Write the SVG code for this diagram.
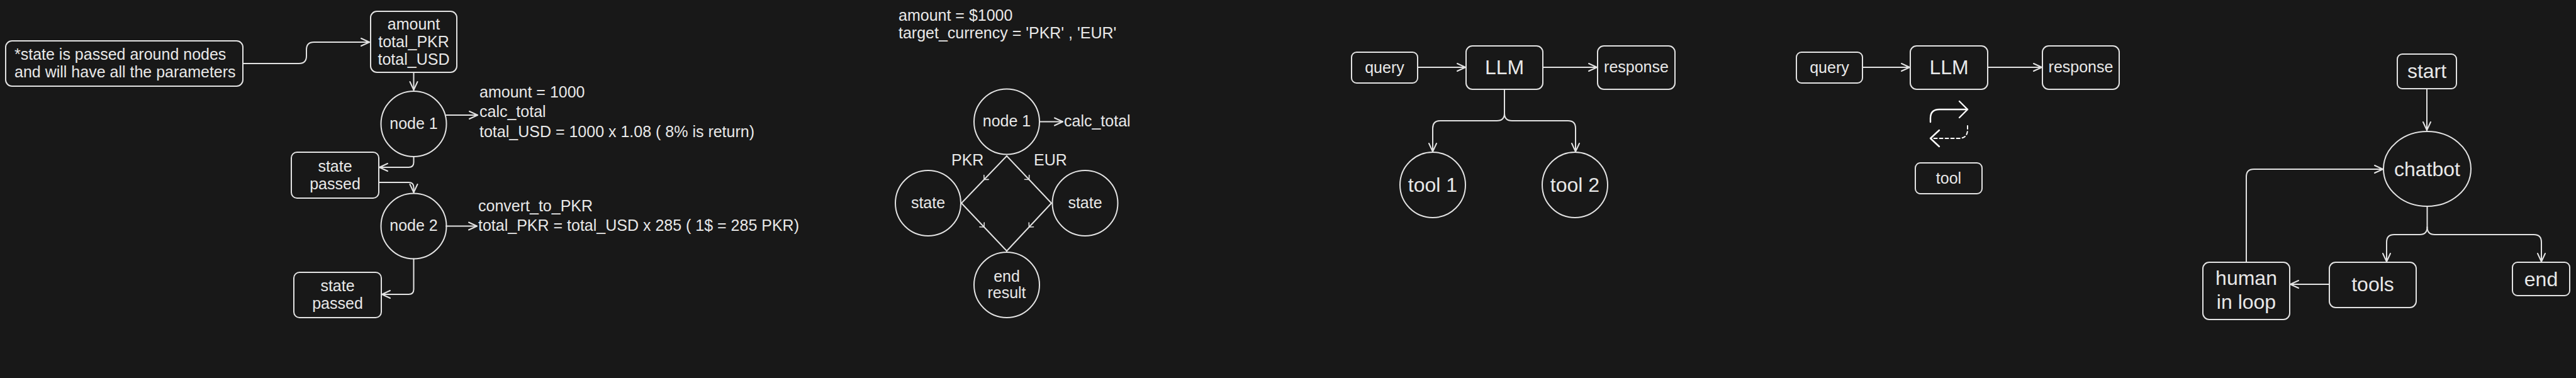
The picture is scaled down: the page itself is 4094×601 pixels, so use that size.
<svg xmlns="http://www.w3.org/2000/svg" width="4094" height="601" viewBox="0 0 4094 601">
<style>
.bg{fill:#181818}
.box{fill:none;stroke:#e3e3e3;stroke-width:2}
.ln{fill:none;stroke:#e3e3e3;stroke-width:2;stroke-linecap:round;stroke-linejoin:round}
.dash{stroke-dasharray:5 4}
text{font-family:"Liberation Sans",Arial,sans-serif;fill:#e8e8e8;font-size:25px}
.c{text-anchor:middle}
.big{font-size:32px}
</style>
<defs>
<marker id="ah" markerUnits="userSpaceOnUse" markerWidth="30" markerHeight="30" viewBox="-15 -15 30 30" refX="0" refY="0" orient="auto">
<path d="M-13,-6 L0,0 L-13,6" fill="none" stroke="#e3e3e3" stroke-width="2" stroke-linecap="round" stroke-linejoin="round"/>
</marker>
<marker id="sm" markerUnits="userSpaceOnUse" markerWidth="16" markerHeight="16" viewBox="-8 -8 16 16" refX="0" refY="0" orient="auto">
<path d="M-5,-5 L0,0 L-5,5" fill="none" stroke="#e3e3e3" stroke-width="1.6" stroke-linecap="round"/>
</marker>
<marker id="lg" markerUnits="userSpaceOnUse" markerWidth="40" markerHeight="40" viewBox="-20 -20 40 40" refX="0" refY="0" orient="auto">
<path d="M-13,-13 L0,0 L-13,13" fill="none" stroke="#ffffff" stroke-width="2.4" stroke-linecap="round" stroke-linejoin="round"/>
</marker>
</defs>
<rect class="bg" x="0" y="0" width="4094" height="601"/>

<!-- Section 1 -->
<g id="note">
<rect class="box" x="9" y="65" width="377" height="72" rx="10"/>
<text x="23" y="95">*state is passed around nodes</text>
<text x="23" y="123">and will have all the parameters</text>
</g>
<g id="state-box">
<rect class="box" x="589" y="18" width="137" height="97" rx="10"/>
<text class="c" x="657.5" y="47">amount</text>
<text class="c" x="657.5" y="75">total_PKR</text>
<text class="c" x="657.5" y="103">total_USD</text>
</g>
<g id="s1-node1">
<circle class="box" cx="657.5" cy="197" r="52"/>
<text class="c" x="657.5" y="205">node 1</text>
</g>
<g id="s1-node1-text">
<text x="762" y="155">amount = 1000</text>
<text x="762" y="186">calc_total</text>
<text x="762" y="218">total_USD = 1000 x 1.08 ( 8% is return)</text>
</g>
<g id="s1-passed1">
<rect class="box" x="463" y="242" width="139" height="73" rx="9"/>
<text class="c" x="532.5" y="273">state</text>
<text class="c" x="532.5" y="301">passed</text>
</g>
<g id="s1-node2">
<circle class="box" cx="657.5" cy="359.5" r="52"/>
<text class="c" x="657.5" y="367">node 2</text>
</g>
<g id="s1-node2-text">
<text x="760" y="336">convert_to_PKR</text>
<text x="760" y="367">total_PKR = total_USD x 285 ( 1$ = 285 PKR)</text>
</g>
<g id="s1-passed2">
<rect class="box" x="467" y="433" width="139" height="72" rx="9"/>
<text class="c" x="536.5" y="463">state</text>
<text class="c" x="536.5" y="491">passed</text>
</g>

<!-- Section 2 -->
<g id="s2-header">
<text x="1428" y="33">amount = $1000</text>
<text x="1428" y="61">target_currency = 'PKR' , 'EUR'</text>
</g>
<g id="s2-node1">
<circle class="box" cx="1600" cy="193.5" r="52"/>
<text class="c" x="1600" y="201">node 1</text>
</g>
<g id="s2-calc"><text x="1691" y="201">calc_total</text></g>
<g id="s2-state-pkr">
<circle class="box" cx="1475" cy="323" r="52"/>
<text class="c" x="1475" y="331">state</text>
</g>
<g id="s2-state-eur">
<circle class="box" cx="1724.5" cy="323" r="52"/>
<text class="c" x="1724.5" y="331">state</text>
</g>
<g id="s2-end">
<circle class="box" cx="1600" cy="453" r="52"/>
<text class="c" x="1600" y="448">end</text>
<text class="c" x="1600" y="474">result</text>
</g>
<g id="s2-labels">
<text x="1512" y="263">PKR</text>
<text x="1643" y="263">EUR</text>
</g>

<!-- Section 3 -->
<g id="s3-query">
<rect class="box" x="2148" y="83" width="105" height="49" rx="8"/>
<text class="c" x="2200.5" y="116">query</text>
</g>
<g id="s3-llm">
<rect class="box" x="2330" y="73" width="122" height="69" rx="10"/>
<text class="c big" x="2391" y="118">LLM</text>
</g>
<g id="s3-response">
<rect class="box" x="2539" y="73" width="123" height="69" rx="10"/>
<text class="c" x="2600.5" y="115">response</text>
</g>
<g id="s3-tool1">
<circle class="box" cx="2277" cy="294" r="52"/>
<text class="c big" x="2277" y="305">tool 1</text>
</g>
<g id="s3-tool2">
<circle class="box" cx="2503" cy="294" r="52"/>
<text class="c big" x="2503" y="305">tool 2</text>
</g>

<!-- Section 4 -->
<g id="s4-query">
<rect class="box" x="2855" y="83" width="105" height="49" rx="8"/>
<text class="c" x="2907.5" y="116">query</text>
</g>
<g id="s4-llm">
<rect class="box" x="3036" y="73" width="123" height="69" rx="10"/>
<text class="c big" x="3097.5" y="118">LLM</text>
</g>
<g id="s4-response">
<rect class="box" x="3246" y="73" width="122" height="69" rx="10"/>
<text class="c" x="3307" y="115">response</text>
</g>
<g id="s4-tool">
<rect class="box" x="3044" y="259" width="106" height="49" rx="8"/>
<text class="c" x="3097" y="292">tool</text>
</g>

<!-- Section 5 -->
<g id="s5-start">
<rect class="box" x="3810" y="86" width="94" height="55" rx="8"/>
<text class="c big" x="3857" y="124">start</text>
</g>
<g id="s5-chatbot">
<ellipse class="box" cx="3857.5" cy="268.5" rx="69.5" ry="59.5"/>
<text class="c big" x="3857.5" y="280">chatbot</text>
</g>
<g id="s5-tools">
<rect class="box" x="3702" y="417" width="138" height="72" rx="10"/>
<text class="c big" x="3771" y="463">tools</text>
</g>
<g id="s5-end">
<rect class="box" x="3993" y="417" width="91" height="53" rx="8"/>
<text class="c big" x="4038.5" y="455">end</text>
</g>
<g id="s5-human">
<rect class="box" x="3501" y="417" width="138" height="91" rx="10"/>
<text class="c big" x="3570" y="453">human</text>
<text class="c big" x="3570" y="491">in loop</text>
</g>

<g id="connectors">
<!-- section 1 -->
<path class="ln" marker-end="url(#ah)" d="M386,101 H475 Q487,101 487,89 V79 Q487,67 499,67 H587"/>
<path class="ln" marker-end="url(#ah)" d="M657.5,115 V143"/>
<path class="ln" marker-end="url(#ah)" d="M709,183 H759"/>
<path class="ln" marker-end="url(#ah)" d="M657.5,249 V258 Q657.5,266 649.5,266 H603"/>
<path class="ln" marker-end="url(#ah)" d="M602,290 H649.5 Q657.5,290 657.5,298 V306"/>
<path class="ln" marker-end="url(#ah)" d="M709,359.5 H758"/>
<path class="ln" marker-end="url(#ah)" d="M657.5,411.5 V460 Q657.5,468 649.5,468 H607"/>
<!-- section 2 -->
<path class="ln" marker-end="url(#ah)" d="M1652,193.5 H1689"/>
<path class="ln" marker-mid="url(#sm)" d="M1600,248 L1564,285.5 L1528,323"/>
<path class="ln" marker-mid="url(#sm)" d="M1600,248 L1635.5,285.5 L1671,323"/>
<path class="ln" marker-mid="url(#sm)" d="M1528,323 L1564,361 L1600,399"/>
<path class="ln" marker-mid="url(#sm)" d="M1671,323 L1635.5,361 L1600,399"/>
<!-- section 3 -->
<path class="ln" marker-end="url(#ah)" d="M2253,107 H2329"/>
<path class="ln" marker-end="url(#ah)" d="M2452,107 H2538"/>
<path class="ln" marker-end="url(#ah)" d="M2391,142 V180 Q2391,192 2379,192 H2289 Q2277,192 2277,204 V241"/>
<path class="ln" marker-end="url(#ah)" d="M2391,180 Q2391,192 2403,192 H2492 Q2504,192 2504,204 V241"/>
<!-- section 4 -->
<path class="ln" marker-end="url(#ah)" d="M2960,107 H3035"/>
<path class="ln" marker-end="url(#ah)" d="M3159,107 H3245"/>
<path class="ln" style="stroke:#ffffff;stroke-width:2.4" marker-end="url(#lg)" d="M3068,194 V188 Q3068,174 3082,174 H3127"/>
<path class="ln dash" style="stroke:#ffffff;stroke-width:2" d="M3127,200 V206 Q3127,220 3113,220 H3069"/>
<path class="ln" style="stroke:#ffffff;stroke-width:2.4" d="M3082,207 L3068,220 L3082,233"/>
<!-- section 5 -->
<path class="ln" marker-end="url(#ah)" d="M3857,141 V207"/>
<path class="ln" marker-end="url(#ah)" d="M3857.5,328 V361 Q3857.5,373 3845.5,373 H3805 Q3793,373 3793,385 V416"/>
<path class="ln" marker-end="url(#ah)" d="M3857.5,361 Q3857.5,373 3869.5,373 H4027 Q4039,373 4039,385 V416"/>
<path class="ln" marker-end="url(#ah)" d="M3702,452 H3640"/>
<path class="ln" marker-end="url(#ah)" d="M3570,417 V281 Q3570,269 3582,269 H3787"/>
</g>
</svg>
